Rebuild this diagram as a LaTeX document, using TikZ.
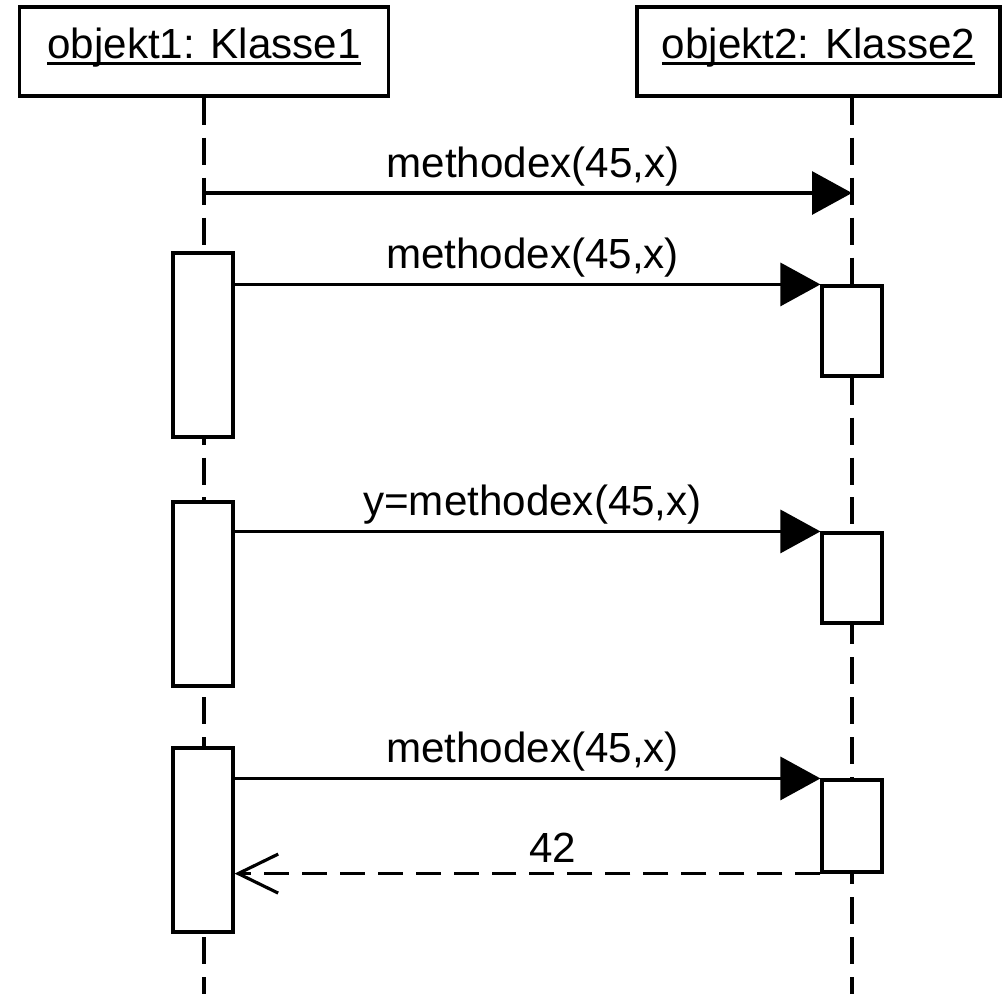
\documentclass[tikz,border=0pt]{standalone}
\usepackage{fontspec}
\setmainfont{Liberation Sans}
\usetikzlibrary{arrows.meta}
\newcommand\objname[1]{\setbox0\hbox{#1}\rlap{\rule[-0.13cm]{\wd0}{0.06cm}}\box0}

\begin{document}
\begin{tikzpicture}[x=0.02cm,y=-0.02cm,
  lbl/.style={font=\fontsize{24pt}{28pt}\selectfont},
  obj/.style={draw,line width=1.8pt,inner sep=0pt,text height=1.02cm,text depth=0.76cm,lbl},
  act/.style={draw,fill=white,line width=1.8pt,minimum width=1.2cm},
  life/.style={line width=1.8pt,dash pattern=on 0.54cm off 0.26cm},
  msg/.style={line width=1.8pt,-{Triangle[length=0.8cm,width=0.86cm]}},
  ret/.style={line width=1.8pt,dash pattern=on 0.5cm off 0.26cm,-{Straight Barb[length=0.8cm,width=0.78cm]}},
  txt/.style={lbl,anchor=base,inner sep=0pt,xshift=0.1cm,yshift=0.32cm}]
  \useasboundingbox (0,0) rectangle (1006,994);
  % objects
  \node[obj,minimum width=7.38cm] (obj1) at (204,51.5) {\objname{objekt1: Klasse1}};
  \node[obj,minimum width=7.26cm] (obj2) at (818.5,51.5) {\objname{objekt2: Klasse2}};
  % lifelines
  \coordinate (end1) at (204,994);
  \coordinate (end2) at (852,994);
  \draw[life] (obj1.south -| end1) -- (end1);
  \draw[life] (obj2.south -| end2) -- (end2);
  % activations
  \node[act,minimum height=3.68cm] (la1) at (203,345) {};
  \node[act,minimum height=3.68cm] (la2) at (203,594) {};
  \node[act,minimum height=3.68cm] (la3) at (203,840) {};
  \node[act,minimum height=1.8cm] (ra1) at (852,331) {};
  \node[act,minimum height=1.8cm] (ra2) at (852,578) {};
  \node[act,minimum height=1.84cm] (ra3) at (852,826) {};
  % messages
  \coordinate (m1) at (204,193);
  \draw[msg] (m1) -- (m1 -| end2) node[txt,midway] {methodex(45,x)};
  \draw[msg] (la1.east |- ra1.north) -- (ra1.north west) node[txt,midway] {methodex(45,x)};
  \draw[msg] (la2.east |- ra2.north) -- (ra2.north west) node[txt,midway] {y=methodex(45,x)};
  \draw[msg] (la3.east |- ra3.north) -- (ra3.north west) node[txt,midway] {methodex(45,x)};
  \draw[ret] (ra3.south west) -- (la3.east |- ra3.south west) node[txt,midway,xshift=0.4cm,yshift=-0.1cm] {42};
\end{tikzpicture}
\end{document}
